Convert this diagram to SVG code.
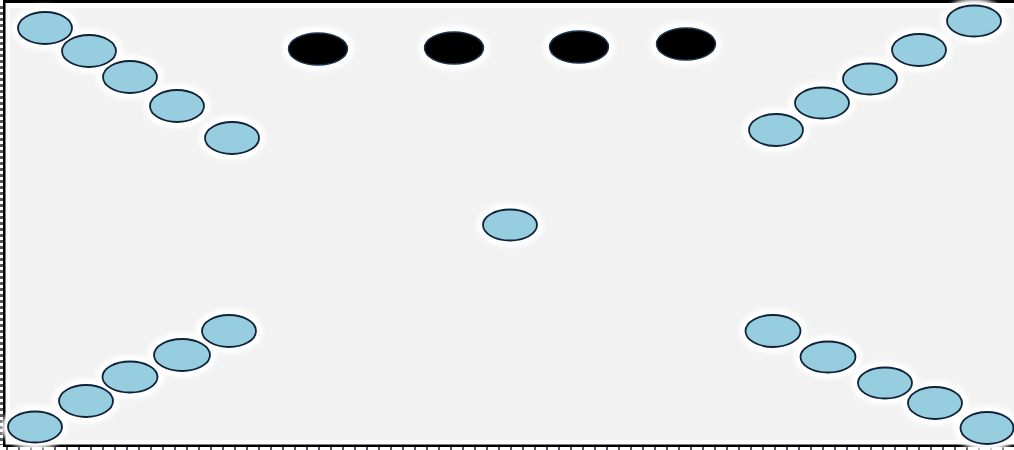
<svg xmlns="http://www.w3.org/2000/svg" width="1014" height="450" viewBox="0 0 1014 450">
<style>
.halo ellipse{fill:#ffffff;stroke:#ffffff;stroke-width:13}
.n{fill:#96cddf;stroke:#0f2237;stroke-width:1.8}
.b{fill:#000000;stroke:#1c3550;stroke-width:1.4}
</style>
<defs>
<filter id="glow" x="-10%" y="-10%" width="120%" height="120%"><feGaussianBlur stdDeviation="2.2"/></filter>
<pattern id="tx" width="12" height="4" patternUnits="userSpaceOnUse" x="6"><rect x="0" y="0" width="2" height="4" fill="#555566"/></pattern>
<pattern id="ty" width="3" height="6" patternUnits="userSpaceOnUse"><rect x="0" y="0" width="3" height="3" fill="#555566"/></pattern>
</defs>
<rect x="0" y="0" width="1014" height="450" fill="#ffffff"/>
<rect x="10" y="8" width="1004" height="432" fill="#f2f2f2"/>
<g id="frame">
<rect x="0" y="3" width="3" height="442" fill="url(#ty)"/>
<rect x="4" y="0" width="1010" height="3" fill="#000"/>
<rect x="3" y="0" width="2.5" height="447" fill="#000"/>
<rect x="3" y="444.5" width="1011" height="2.5" fill="#000"/>
<rect x="0" y="447" width="1014" height="3" fill="url(#tx)"/>
</g>
<g id="halos" class="halo" filter="url(#glow)">
<ellipse cx="45" cy="28" rx="27" ry="16"/><ellipse cx="89" cy="51" rx="27" ry="16"/><ellipse cx="130" cy="77" rx="27" ry="16"/><ellipse cx="177" cy="106" rx="27" ry="16"/><ellipse cx="232" cy="138" rx="27" ry="16"/>
<ellipse cx="318" cy="49" rx="29.5" ry="16"/><ellipse cx="454" cy="48" rx="29.5" ry="16"/><ellipse cx="579" cy="47" rx="29.5" ry="16"/><ellipse cx="686" cy="44" rx="29.5" ry="16"/>
<ellipse cx="510" cy="225" rx="27" ry="15.5"/>
<ellipse cx="974" cy="21" rx="27" ry="15.5"/><ellipse cx="919" cy="50" rx="27" ry="16"/><ellipse cx="870" cy="79" rx="27" ry="15.5"/><ellipse cx="822" cy="103" rx="27" ry="15.5"/><ellipse cx="776" cy="130" rx="27" ry="16"/>
<ellipse cx="35" cy="427" rx="27" ry="15.5"/><ellipse cx="86" cy="401" rx="27" ry="16"/><ellipse cx="130" cy="377" rx="27.5" ry="15.5"/><ellipse cx="182" cy="355" rx="28" ry="16"/><ellipse cx="229" cy="331" rx="27" ry="16"/>
<ellipse cx="773" cy="331" rx="27.5" ry="16"/><ellipse cx="828" cy="357" rx="27.5" ry="15.5"/><ellipse cx="885" cy="383" rx="27" ry="15.5"/><ellipse cx="935" cy="403" rx="27" ry="16"/><ellipse cx="987" cy="428" rx="26.5" ry="16"/>
</g>
<g id="connectors"></g>
<g id="tl1"><ellipse class="n" cx="45" cy="28" rx="27" ry="16"/></g>
<g id="tl2"><ellipse class="n" cx="89" cy="51" rx="27" ry="16"/></g>
<g id="tl3"><ellipse class="n" cx="130" cy="77" rx="27" ry="16"/></g>
<g id="tl4"><ellipse class="n" cx="177" cy="106" rx="27" ry="16"/></g>
<g id="tl5"><ellipse class="n" cx="232" cy="138" rx="27" ry="16"/></g>
<g id="k1"><ellipse class="b" cx="318" cy="49" rx="29.5" ry="16"/></g>
<g id="k2"><ellipse class="b" cx="454" cy="48" rx="29.5" ry="16"/></g>
<g id="k3"><ellipse class="b" cx="579" cy="47" rx="29.5" ry="16"/></g>
<g id="k4"><ellipse class="b" cx="686" cy="44" rx="29.5" ry="16"/></g>
<g id="center"><ellipse class="n" cx="510" cy="225" rx="27" ry="15.5"/></g>
<g id="tr1"><ellipse class="n" cx="974" cy="21" rx="27" ry="15.5"/></g>
<g id="tr2"><ellipse class="n" cx="919" cy="50" rx="27" ry="16"/></g>
<g id="tr3"><ellipse class="n" cx="870" cy="79" rx="27" ry="15.5"/></g>
<g id="tr4"><ellipse class="n" cx="822" cy="103" rx="27" ry="15.5"/></g>
<g id="tr5"><ellipse class="n" cx="776" cy="130" rx="27" ry="16"/></g>
<g id="bl1"><ellipse class="n" cx="35" cy="427" rx="27" ry="15.5"/></g>
<g id="bl2"><ellipse class="n" cx="86" cy="401" rx="27" ry="16"/></g>
<g id="bl3"><ellipse class="n" cx="130" cy="377" rx="27.5" ry="15.5"/></g>
<g id="bl4"><ellipse class="n" cx="182" cy="355" rx="28" ry="16"/></g>
<g id="bl5"><ellipse class="n" cx="229" cy="331" rx="27" ry="16"/></g>
<g id="br1"><ellipse class="n" cx="773" cy="331" rx="27.5" ry="16"/></g>
<g id="br2"><ellipse class="n" cx="828" cy="357" rx="27.5" ry="15.5"/></g>
<g id="br3"><ellipse class="n" cx="885" cy="383" rx="27" ry="15.5"/></g>
<g id="br4"><ellipse class="n" cx="935" cy="403" rx="27" ry="16"/></g>
<g id="br5"><ellipse class="n" cx="987" cy="428" rx="26.5" ry="16"/></g>
</svg>
